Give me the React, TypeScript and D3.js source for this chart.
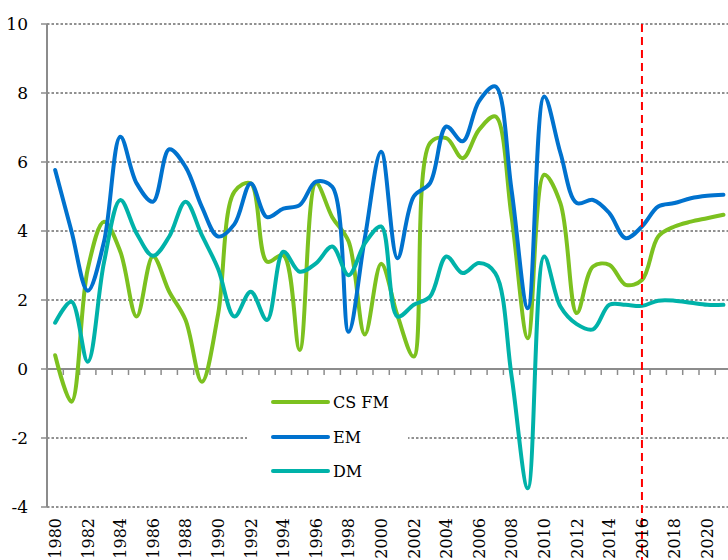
import React from "react";
import * as d3 from "d3";

const years: number[] = d3.range(1980, 2022);
const yTicks: number[] = [-4, -2, 0, 2, 4, 6, 8, 10];
const xLabelYears: number[] = d3.range(1980, 2021, 2);
const forecastYear = 2016;

const seriesNames: string[] = ["CS FM", "EM", "DM"];
const seriesColors: string[] = ["#7CC11F", "#0072CE", "#00B2A9"];

const csfm: number[] = [0.4, -0.95, 2.9, 4.27, 3.4, 1.52, 3.26, 2.24, 1.42, -0.37, 1.6, 5.14, 5.38, 3.11, 3.3, 0.55, 5.38, 4.4, 3.7, 1.0, 3.05, 1.55, 0.36, 6.55, 6.69, 6.11, 6.93, 7.32, 4.42, 0.89, 5.63, 4.8, 1.62, 2.97, 3.02, 2.44, 2.58, 3.84, 4.13, 4.27, 4.37, 4.47];
const em: number[] = [5.77, 4.0, 2.27, 3.7, 6.73, 5.38, 4.85, 6.37, 5.86, 4.7, 3.84, 4.2, 5.38, 4.4, 4.65, 4.75, 5.43, 5.28, 1.08, 3.8, 6.3, 3.21, 5.0, 5.39, 7.03, 6.6, 7.76, 8.19, 5.19, 1.76, 7.9, 6.26, 4.81, 4.9, 4.52, 3.79, 4.13, 4.71, 4.81, 4.95, 5.02, 5.05];
const dm: number[] = [1.34, 1.95, 0.21, 3.1, 4.9, 3.93, 3.28, 3.84, 4.85, 3.88, 2.9, 1.52, 2.24, 1.42, 3.4, 2.82, 3.06, 3.55, 2.72, 3.64, 4.13, 1.52, 1.86, 2.1, 3.26, 2.78, 3.07, 2.78, -0.2, -3.46, 3.26, 1.81, 1.3, 1.15, 1.86, 1.86, 1.83, 1.98, 1.98, 1.92, 1.86, 1.86];

const seriesValues: number[][] = [csfm, em, dm];

const W = 728;
const H = 560;
const FONT = "'DejaVu Serif', 'Liberation Serif', serif";

export default function App() {
  const x = d3.scaleBand<number>().domain(years).range([47, 731.6]).paddingInner(0).paddingOuter(0);
  const y = d3.scaleLinear().domain([-4, 10]).range([507, 24]);
  const cx = (yr: number) => (x(yr) as number) + x.bandwidth() / 2;

  const line = d3
    .line<number>()
    .x((_, i) => cx(years[i]))
    .y((v) => y(v))
    .curve(d3.curveCatmullRom.alpha(0.5));

  const axisColor = "#8C8C8C";
  const plotRight = 731.6;
  const boundaries = d3.range(0, years.length + 1).map((k) => 47 + k * x.bandwidth());

  const legendX = 247;
  const legendY = 382;
  const legendRowY = [402, 437, 471];

  return (
    <svg width={W} height={H} style={{ position: "absolute", left: 0, top: 0, background: "#fff" }}>
      <rect x={0} y={0} width={W} height={H} fill="#fff" />
      {yTicks.filter((t) => t !== 0).map((t) => (
        <line key={"g" + t} x1={47} x2={plotRight} y1={y(t)} y2={y(t)} stroke="#222" strokeWidth={1} strokeDasharray="2.5,2" />
      ))}
      <line x1={47} x2={47} y1={y(10)} y2={y(-4)} stroke={axisColor} strokeWidth={2} />
      {yTicks.map((t) => (
        <g key={"yt" + t}>
          <line x1={41} x2={47} y1={y(t)} y2={y(t)} stroke={axisColor} strokeWidth={1.5} />
          <text x={28} y={y(t)} dy="0.36em" textAnchor="end" fontFamily={FONT} fontSize={17} fill="#000">
            {t}
          </text>
        </g>
      ))}
      <line x1={47} x2={plotRight} y1={y(0)} y2={y(0)} stroke={axisColor} strokeWidth={2} />
      {boundaries.map((bx, k) => (
        <line key={"xt" + k} x1={bx} x2={bx} y1={y(0)} y2={y(0) + 6} stroke={axisColor} strokeWidth={1.5} />
      ))}
      {seriesValues.map((vals, si) => (
        <path key={"s" + si} d={line(vals) || ""} fill="none" stroke={seriesColors[si]} strokeWidth={4} strokeLinejoin="round" strokeLinecap="round" />
      ))}
      <line x1={cx(forecastYear)} x2={cx(forecastYear)} y1={y(10)} y2={H} stroke="#FF0000" strokeWidth={2} strokeDasharray="8,5" />
      {xLabelYears.map((yr) => (
        <text
          key={"xl" + yr}
          transform={`translate(${cx(yr)},518) rotate(-90)`}
          dy="0.36em"
          textAnchor="end"
          fontFamily={FONT}
          fontSize={16}
          fill="#000"
        >
          {yr}
        </text>
      ))}
      <rect x={legendX} y={legendY} width={161} height={105} fill="#fff" />
      {seriesNames.map((name, i) => (
        <g key={"lg" + i}>
          <line x1={273} x2={328} y1={legendRowY[i]} y2={legendRowY[i]} stroke={seriesColors[i]} strokeWidth={4} strokeLinecap="round" />
          <text x={333} y={legendRowY[i]} dy="0.36em" fontFamily={FONT} fontSize={16} fill="#000">
            {name}
          </text>
        </g>
      ))}
    </svg>
  );
}
